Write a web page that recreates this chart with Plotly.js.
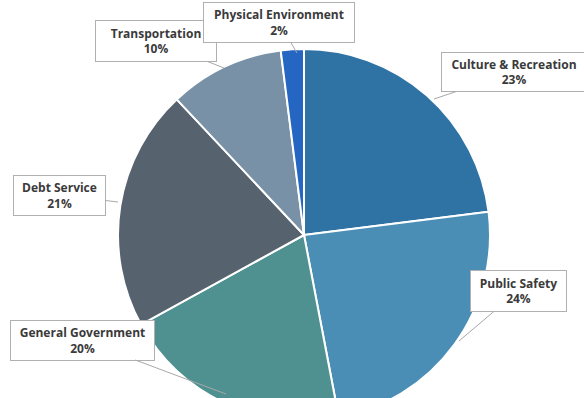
<!DOCTYPE html>
<html>
<head>
<meta charset="utf-8">
<script src="https://cdn.plot.ly/plotly-3.0.1.min.js"></script>
<style>
html,body{margin:0;padding:0;overflow:hidden;background:#ffffff;}
#chart{width:584px;height:440px;}
</style>
</head>
<body>
<div id="chart"></div>
<script>
// Data
const categories = ["Culture & Recreation", "Public Safety", "General Government", "Debt Service", "Transportation", "Physical Environment"];
const shares = [23, 24, 20, 21, 10, 2];
const sliceColors = ["#2f73a5", "#4a8db5", "#4f9190", "#56636e", "#7891a6", "#2466c2"];

// Layout (pixel geometry)
const W = 584, H = 440;
const cx = 304, cy = 235, R = 186;
const px = x => x / W;
const py = y => 1 - y / H;

// label placement: [box centre x, box centre y, tip x, tip y, box width, box height]
const labelGeom = {
  "Transportation":       [156, 41, 224, 68, 122, 42],
  "Physical Environment": [279, 22, 297, 53, 152, 41],
  "Culture & Recreation": [514, 72, 434, 99, 146, 40],
  "Debt Service":         [59, 195, 118, 202, 93, 41],
  "General Government":   [82, 340, 226, 394, 145, 41],
  "Public Safety":        [518, 291, 459, 341, 97, 42]
};
const labelOrder = ["Transportation", "Physical Environment", "Culture & Recreation", "Debt Service", "General Government", "Public Safety"];

const annotations = labelOrder.map(name => {
  const g = labelGeom[name];
  const v = shares[categories.indexOf(name)];
  return {
    xref: "paper", yref: "paper",
    x: px(g[2]), y: py(g[3]),
    ax: g[0] - g[2], ay: g[1] - g[3],
    axref: "pixel", ayref: "pixel",
    text: "<b>" + name + "</b><br><b>" + v + "%</b>",
    showarrow: true, arrowhead: 0, arrowwidth: 1, arrowcolor: "#a8a8a8",
    standoff: 0, startstandoff: 0,
    bgcolor: "#ffffff", bordercolor: "#b0b0b0", borderwidth: 1, borderpad: 2,
    width: g[4] - 6, height: g[5] - 6,
    align: "center", valign: "middle",
    font: {family: "Open Sans, sans-serif", size: 12, color: "#3a3a3a"}
  };
});

const trace = {
  type: "pie",
  labels: categories,
  values: shares,
  sort: false,
  direction: "clockwise",
  rotation: 0,
  textinfo: "none",
  hoverinfo: "label+percent",
  marker: {colors: sliceColors, line: {color: "#ffffff", width: 2}},
  domain: {x: [px(cx - R), px(cx + R)], y: [py(cy + R), py(cy - R)]},
  showlegend: false
};

const layout = {
  width: W, height: H,
  margin: {l: 0, r: 0, t: 0, b: 0},
  paper_bgcolor: "#ffffff",
  plot_bgcolor: "#ffffff",
  showlegend: false,
  annotations: annotations
};

Plotly.newPlot("chart", [trace], layout, {displayModeBar: false, staticPlot: true});
</script>
</body>
</html>
